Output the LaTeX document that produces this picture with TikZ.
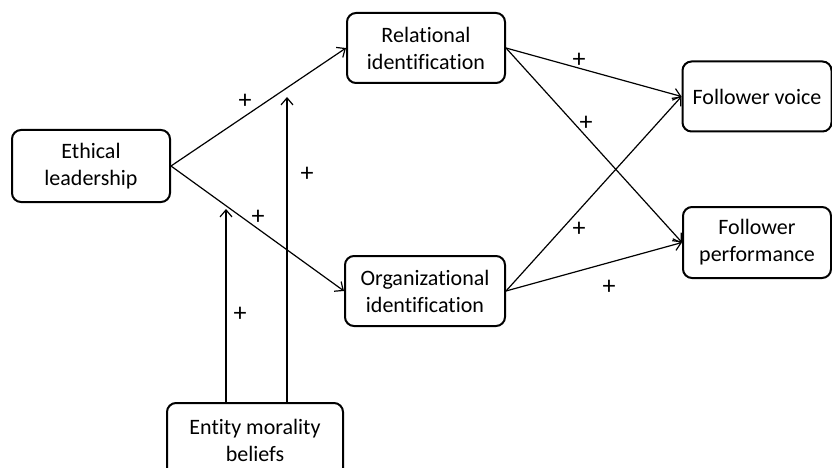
\documentclass[tikz,border=0pt]{standalone}
\usepackage{fontspec}
\setmainfont{Carlito}[Ligatures=NoCommon]
\usetikzlibrary{arrows.meta}
\begin{document}
\begin{tikzpicture}[x=1pt,y=-1pt,
  box/.style={draw,line width=2pt,rounded corners=9pt,align=center,inner sep=0pt,
    font=\fontsize{22}{27}\selectfont},
  arr/.style={line width=1.2pt,-{Straight Barb[length=7pt,width=12pt]}},
  plus/.style={font=\fontsize{26}{27}\selectfont,inner sep=0pt}]
\useasboundingbox (0,0) rectangle (832,468);
\begin{scope}
\clip (0,0) rectangle (832,468);
\node[box,minimum width=158pt,minimum height=72pt] (e) at (91,166) {Ethical\\leadership};
\node[box,minimum width=158pt,minimum height=70pt] (r) at (426,48) {Relational\\identification};
\node[box,minimum width=160pt,minimum height=70pt] (o) at (425,291) {Organizational\\identification};
\node[box,minimum width=149pt,minimum height=70pt] (v) at (757,96.5) {Follower voice};
\node[box,minimum width=148pt,minimum height=71pt] (p) at (757,242.5) {Follower\\performance};
\node[box,minimum width=176pt,minimum height=74pt] (en) at (255,440) {Entity morality\\beliefs};
\end{scope}
\coordinate (m1) at (226,209);
\coordinate (m2) at (287,97);
\draw[arr] (e.east) -- (r.west);
\draw[arr] (e.east) -- (o.west);
\draw[arr] (r.east) -- (v.west);
\draw[arr] (r.east) -- (p.west);
\draw[arr] (o.east) -- (v.west);
\draw[arr] (o.east) -- (p.west);
\draw[arr] (en.north -| m1) -- (m1);
\draw[arr] (en.north -| m2) -- (m2);
\node[plus] (p1) at (245,101) {+};
\node[plus] (p2) at (307,174) {+};
\node[plus] (p3) at (258,217) {+};
\node[plus] (p4) at (240,314) {+};
\node[plus] (p5) at (579,60) {+};
\node[plus] (p6) at (586,123) {+};
\node[plus] (p7) at (579,229) {+};
\node[plus] (p8) at (609,287) {+};
\end{tikzpicture}
\end{document}
